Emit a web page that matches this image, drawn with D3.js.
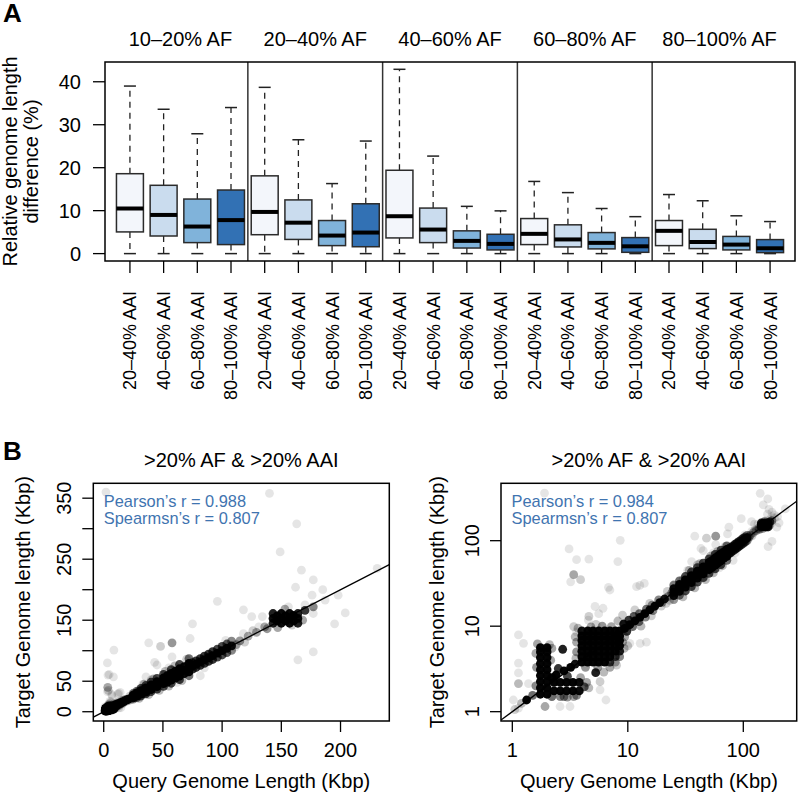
<!DOCTYPE html>
<html>
<head>
<meta charset="utf-8">
<script src="https://cdn.jsdelivr.net/npm/d3@7"></script>
<style>
  body { margin: 0; background: #fff; }
  svg text { font-family: "Liberation Sans", Arial, Helvetica, sans-serif; fill: #000; }
</style>
</head>
<body>
<div id="chart"></div>
<script>
// ---------- panel A data ----------
const afGroups = ["10–20% AF", "20–40% AF", "40–60% AF", "60–80% AF", "80–100% AF"];
const aaiGroups = ["20–40% AAI", "40–60% AAI", "60–80% AAI", "80–100% AAI"];
const yTicksA = [0, 10, 20, 30, 40];

// one value per box, boxes ordered AF group by AF group, AAI inside
const whiskerLow  = [0, 0, 0, 0,  0, 0, 0, 0,  0, 0, 0, 0,  0, 0, 0, 0,  0, 0, 0, 0];
const boxQ1       = [5.05, 4.1, 2.56, 2.1,  4.4, 3.3, 1.86, 1.6,  3.65, 2.56, 1.3, 0.86,  2.1, 1.55, 1.1, 0.3,  1.86, 1.17, 0.86, 0.23];
const boxMedian   = [10.5, 9.0, 6.3, 7.8,  9.7, 7.2, 4.2, 4.9,  8.7, 5.6, 2.96, 2.26,  4.6, 3.3, 2.5, 1.7,  5.3, 2.7, 2.1, 1.24];
const boxQ3       = [18.6, 15.9, 12.7, 14.8,  18.1, 12.5, 7.7, 11.6,  19.4, 10.6, 5.3, 4.5,  8.16, 6.7, 4.9, 3.73,  7.7, 5.66, 4.0, 3.26];
const whiskerHigh = [39.0, 33.6, 27.9, 34.0,  38.7, 26.5, 16.3, 26.2,  42.9, 22.7, 11.0, 9.95,  16.8, 14.2, 10.5, 8.6,  13.75, 12.3, 8.8, 7.46];

// ---------- panel B data ----------
// [query Kbp, target Kbp, how many overlapping points sit there]
const genomePairs = [
  // smallest genomes
  [1.33,1.37,40],[1.05,1.06,2],[1.5,1.55,8],[1.2,1.25,3],
  // vertical bar near 2 Kbp query
  [1.75,1.6,40],[1.75,1.9,40],[1.75,2.25,40],[1.75,2.65,40],[1.75,3.1,40],[1.75,3.65,40],[1.75,4.3,40],[1.75,5.0,40],[1.75,5.6,40],
  [2.0,1.6,40],[2.0,1.9,40],[2.0,2.25,40],[2.0,2.65,40],[2.0,3.1,40],[2.0,3.65,40],[2.0,4.3,40],[2.0,5.0,40],[2.0,5.6,40],
  [1.65,6.2,4],[2.1,6.1,3],[1.6,4.8,4],[2.15,4.0,4],[1.62,3.3,5],[1.6,2.0,6],[2.2,5.5,4],
  // horizontal band near 2 Kbp target
  [2.3,1.75,40],[2.6,1.75,40],[2.95,1.75,40],[3.35,1.75,40],[3.8,1.75,30],
  [2.3,2.2,40],[2.6,2.2,40],[2.95,2.2,40],[3.35,2.2,40],[3.8,2.2,30],
  [2.2,1.5,8],[2.6,1.5,6],[3.0,1.48,5],[3.4,1.5,4],
  [4.2,1.95,10],[4.4,2.2,4],[3.6,1.55,6],[2.8,1.5,6],[4.6,1.9,3],[3.9,2.5,4],
  [2.4,2.7,40],[2.8,3.0,40],[3.2,3.3,40],[3.5,3.6,25],[2.5,3.2,15],[2.2,2.5,40],[3.0,2.6,12],
  [2.73,5.37,20],[5.27,2.86,20],
  // main block 4-9 Kbp
  [4.0,3.8,40],[4.5,3.8,40],[5.0,3.8,40],[5.6,3.8,40],[6.3,3.8,40],[7.0,3.8,15],[7.8,3.8,4],
  [4.0,4.4,40],[4.5,4.4,40],[5.0,4.4,40],[5.6,4.4,40],[6.3,4.4,40],[7.0,4.4,40],[7.8,4.4,15],[8.5,4.4,6],
  [4.0,5.1,40],[4.5,5.1,40],[5.0,5.1,40],[5.6,5.1,40],[6.3,5.1,40],[7.0,5.1,40],[7.8,5.1,40],[8.5,5.1,20],
  [4.0,5.9,40],[4.5,5.9,40],[5.0,5.9,40],[5.6,5.9,40],[6.3,5.9,40],[7.0,5.9,40],[7.8,5.9,40],[8.5,5.9,40],
  [4.0,6.8,40],[4.5,6.8,40],[5.0,6.8,40],[5.6,6.8,40],[6.3,6.8,40],[7.0,6.8,40],[7.8,6.8,40],[8.5,6.8,40],
  [4.0,7.7,40],[4.5,7.7,40],[5.0,7.7,40],[5.6,7.7,40],[6.3,7.7,40],[7.0,7.7,40],[7.8,7.7,40],[8.5,7.7,40],
  [4.0,8.8,25],[4.5,8.8,40],[5.0,8.8,40],[5.6,8.8,40],[6.3,8.8,40],[7.0,8.8,40],[7.8,8.8,40],[8.5,8.8,40],
  [3.7,9.5,3],[4.8,9.8,4],[6.0,10.0,5],[7.2,9.9,4],[3.6,5.0,5],[3.6,6.5,4],[3.55,4.2,3],[9.3,5.5,3],
  [9.0,6.5,4],[7.0,3.3,4],[5.5,3.3,5],[6.2,2.9,3],[4.3,3.3,5],[3.5,7.5,3],[9.4,7.5,4],[8.0,3.5,2],
  [5.3,10.5,2],[3.4,9.9,2],[10.0,5.9,2],
  // diagonal 9-22 Kbp
  [9.4,9.4,40],[10.4,10.4,40],[11.5,11.5,40],[12.7,12.7,40],[14.0,14.0,40],[15.5,15.5,40],[17.1,17.1,40],[18.9,18.9,40],[20.8,20.8,25],
  [9.2,10.6,25],[10.2,11.8,15],[11.3,13.0,10],[12.6,14.0,8],[14.5,15.8,8],[9.8,8.7,15],[11.0,9.9,8],[12.5,11.3,8],
  [14.2,12.8,6],[16.5,15.2,6],[18.5,20.3,6],[16.2,17.6,5],[19.8,19.0,5],
  [8.2,11.5,3],[9.0,13.5,2],[13.0,10.0,3],[16.0,13.2,2],[19.5,17.2,2],[15.5,18.5,2],[11.5,15.5,2],[21.5,18.5,2],
  [22.5,22.3,5],[24,24.5,6],[23,20,2],[22,25.5,2],
  // thick band 25-72 Kbp
  [25,20.5,5],[25,22.8,30],[25,25,40],[25,27.5,30],[25,30.3,5],
  [28,23.0,8],[28,25.5,40],[28,28,40],[28,30.8,40],[28,33.9,8],
  [31.5,25.8,12],[31.5,28.7,40],[31.5,31.5,40],[31.5,34.7,40],[31.5,38.1,12],
  [35.5,29.1,12],[35.5,32.3,40],[35.5,35.5,40],[35.5,39.1,40],[35.5,43.0,12],
  [40,32.8,12],[40,36.4,40],[40,40,40],[40,44,40],[40,48.4,12],
  [45,36.9,12],[45,41.0,40],[45,45,40],[45,49.5,40],[45,54.5,12],
  [50.5,41.4,12],[50.5,46.0,40],[50.5,50.5,40],[50.5,55.6,40],[50.5,61.1,12],
  [53.7,48.5,30],[53.7,53.7,40],[53.7,59.0,30],
  [57,46.7,12],[57,51.9,40],[57,57,40],[57,62.7,40],[57,69.0,12],
  [60.5,55.0,30],[60.5,60.5,40],[60.5,66.5,30],
  [64,52.5,12],[64,58.2,40],[64,64,40],[64,70.4,40],[64,77.4,12],
  [68,62.5,30],[68,68,40],[68,74.0,30],
  [72,59.0,8],[72,65.5,40],[72,72,40],[72,79.2,40],[72,87.1,8],
  [30,22,3],[34,45,3],[38,28,3],[42,54,3],[47,35,3],[52,66,3],[55,42,3],[60,75,3],[66,51,3],[70,86,2],
  // band 75-110 Kbp
  [75,70,15],[75,75,40],[75,80.5,15],
  [78,72.5,15],[78,78,40],[78,83.5,15],
  [81.5,76,15],[81.5,81.5,40],[81.5,87,15],
  [85,79.1,15],[85,85,40],[85,91.0,15],
  [88.5,82.5,15],[88.5,88.5,40],[88.5,94.5,15],
  [92,85.6,15],[92,92,40],[92,98.4,15],
  [96,89.5,12],[96,96,40],[96,102.5,12],
  [100,93,12],[100,100,40],[100,107,12],
  [104,97,10],[104,104,35],[104,111,10],
  [108,100.4,6],[108,108,25],[108,115.6,6],
  [115,116,5],[122,124,4],[129,130,4],[136,139,4],[112,110,4],[119,114,2],[126,133,2],
  // cluster near 150 Kbp
  [143,145,20],[150,145,30],[157,145,30],[164,145,20],
  [143,153,30],[150,153,40],[157,153,40],[164,153,30],
  [143,161,20],[150,161,30],[157,161,30],[164,161,20],
  [146.5,149,30],[153.5,149,40],[160.5,149,30],[146.5,157,30],[153.5,157,40],[160.5,157,30],
  [146,150,20],[160,158,20],[170,166,15],[177,172,6],[138,136,5],[153,168,4],[168,150,4],[147,138,4],
  // scattered pairs
  [1.9,360,1],[140,358,1],[163,308,1],[167,232,1],[177,216,1],[162,204,1],[176,191,1],[187,183,1],
  [198,191,1],[231,235,1],[204,162,1],[195,144,1],[177,161,1],[177,98,1],[164,85,1],[159,142,2],
  [96,181,1],[118,167,1],[125,156,1],[134,156,1],[75,144,1],[57.7,113,5],[38,113,1],[73,120,1],
  [57.7,90,1],[81.6,59,1],[8.6,101,1],[3.1,80,1],[3.6,60,1],[4.6,61,1],[8.2,57,1],
  [3.4,40,4],[3.9,35,2],[3.2,33,1],[12.7,30,1],[6.8,28.5,1],[7.0,26.5,1],[11.9,29,1],[13.9,31.6,1],
  [45,76.6,1],[43,81,1],[35.7,57,1],[45,41.5,1],[103,117,1],[118,128,1],[111,106,1],[131,139,1],
  [156,172,1],[170,175,1],[48,107,2],[149,262,1],[185,200,1],
  [1.13,7.9,1],[1.25,6.3,1],[1.13,3.7,1],[1.13,2.84,1],[1.13,2.13,3],[1.38,2.13,1],[1.02,1.37,1],
  [1.13,1.1,1],[1.92,1.15,4],[2.59,1.15,1],[3.16,1.15,1],[6.47,1.37,1],[5.75,1.8,1],[5.75,2.24,2],
  [10.4,6.3,1],[12.8,6.3,1],[14.5,6.5,1],[6.1,16.2,1],[5.2,17,1],[4.55,11.8,1],[3.6,8.6,1],
  [4.6,13,2],[5.6,14,1],[25,30,2],[30,35,2],[33,45,1],[40,52,2],[55,72,1],[62,48,1],[85,72,1]
];
const pearsonR = ["0.988", "0.984"];
const spearmanR = ["0.807", "0.807"];
const linTicksX = [0, 50, 100, 150, 200];
const linTicksY = [0, 50, 100, 150, 200, 250, 300, 350];
const linLabelsY = [0, 50, 150, 250, 350];
const logTicks = [1, 10, 100];

// ---------- drawing ----------
const W = 798, H = 799;
const svg = d3.select("#chart").append("svg").attr("width", W).attr("height", H);
const boxFill = ["#f3f6fb", "#cadcee", "#80b3da", "#3271b4"];

svg.append("text").attr("x", 3).attr("y", 22).style("font-size", "26px").style("font-weight", "bold").text("A");
svg.append("text").attr("x", 3).attr("y", 460).style("font-size", "26px").style("font-weight", "bold").text("B");

// panel A scales
const ax = d3.scaleLinear().domain([0.26, 20.74]).range([105, 795]);
const ay = d3.scaleLinear().domain([-1.72, 44.6]).range([261, 62]);
const gA = svg.append("g");
const half = ax(1.4) - ax(1);
const cap = 6;

const boxes = d3.range(20).map(i => ({
  pos: i + 1, aai: i % 4,
  lo: whiskerLow[i], q1: boxQ1[i], med: boxMedian[i], q3: boxQ3[i], hi: whiskerHigh[i]
}));

const bx = gA.selectAll("g.box").data(boxes).enter().append("g").attr("class", "box");
// dashed whiskers
bx.append("line").attr("x1", d => ax(d.pos)).attr("x2", d => ax(d.pos))
  .attr("y1", d => ay(d.q3)).attr("y2", d => ay(d.hi))
  .attr("stroke", "#222").attr("stroke-width", 1.3).attr("stroke-dasharray", "6,5");
bx.append("line").attr("x1", d => ax(d.pos)).attr("x2", d => ax(d.pos))
  .attr("y1", d => ay(d.q1)).attr("y2", d => ay(d.lo))
  .attr("stroke", "#222").attr("stroke-width", 1.3).attr("stroke-dasharray", "6,5");
// caps
bx.append("line").attr("x1", d => ax(d.pos) - cap).attr("x2", d => ax(d.pos) + cap)
  .attr("y1", d => ay(d.hi)).attr("y2", d => ay(d.hi)).attr("stroke", "#222").attr("stroke-width", 1.5);
bx.append("line").attr("x1", d => ax(d.pos) - cap).attr("x2", d => ax(d.pos) + cap)
  .attr("y1", d => ay(d.lo)).attr("y2", d => ay(d.lo)).attr("stroke", "#222").attr("stroke-width", 1.5);
// boxes
bx.append("rect").attr("x", d => ax(d.pos) - half).attr("width", 2 * half)
  .attr("y", d => ay(d.q3)).attr("height", d => ay(d.q1) - ay(d.q3))
  .attr("fill", d => boxFill[d.aai]).attr("stroke", "#2b2b2b").attr("stroke-width", 1.5);
// medians
bx.append("line").attr("x1", d => ax(d.pos) - half).attr("x2", d => ax(d.pos) + half)
  .attr("y1", d => ay(d.med)).attr("y2", d => ay(d.med)).attr("stroke", "#000").attr("stroke-width", 4);

// separators between AF groups
gA.selectAll("line.sep").data([4.5, 8.5, 12.5, 16.5]).enter().append("line")
  .attr("x1", d => ax(d)).attr("x2", d => ax(d)).attr("y1", 62).attr("y2", 261)
  .attr("stroke", "#333").attr("stroke-width", 1.5);
gA.append("rect").attr("x", 105).attr("y", 62).attr("width", 690).attr("height", 199)
  .attr("fill", "none").attr("stroke", "#000").attr("stroke-width", 1.5);

// strip titles
gA.selectAll("text.af").data(afGroups).enter().append("text")
  .attr("x", (d, i) => ax(4 * i + 2.5)).attr("y", 46).attr("text-anchor", "middle")
  .style("font-size", "20px").text(d => d);

// y axis A
gA.selectAll("line.yt").data(yTicksA).enter().append("line")
  .attr("x1", 93).attr("x2", 105).attr("y1", d => ay(d)).attr("y2", d => ay(d))
  .attr("stroke", "#000").attr("stroke-width", 1.3);
gA.selectAll("text.yl").data(yTicksA).enter().append("text")
  .attr("x", 81).attr("y", d => ay(d)).attr("dy", "0.36em").attr("text-anchor", "end")
  .style("font-size", "20px").text(d => d);
const yTitle = gA.append("text").attr("transform", "translate(0," + ((62 + 261) / 2) + ") rotate(-90)")
  .attr("text-anchor", "middle").style("font-size", "20px");
yTitle.append("tspan").attr("x", 0).attr("y", 17).text("Relative genome length");
yTitle.append("tspan").attr("x", 0).attr("y", 38).text("difference (%)");

// x axis A
gA.selectAll("line.xt").data(boxes).enter().append("line")
  .attr("x1", d => ax(d.pos)).attr("x2", d => ax(d.pos)).attr("y1", 261).attr("y2", 273)
  .attr("stroke", "#000").attr("stroke-width", 1.3);
gA.selectAll("text.xl").data(boxes).enter().append("text")
  .attr("transform", d => "translate(" + ax(d.pos) + ",291) rotate(-90)")
  .attr("dy", "0.36em").attr("text-anchor", "end").style("font-size", "18px")
  .text(d => aaiGroups[d.aai]);

// ---------- panel B ----------
function alphaOf(n) { return 1 - Math.pow(0.9, n); }

function scatterPanel(id, x, y, left, right, idx, titleX) {
  const top = 483.3, bottom = 721;
  const g = svg.append("g");
  svg.append("clipPath").attr("id", id).append("rect")
    .attr("x", left).attr("y", top).attr("width", right - left).attr("height", bottom - top);
  const inner = g.append("g").attr("clip-path", "url(#" + id + ")");
  inner.selectAll("circle").data(genomePairs).enter().append("circle")
    .attr("cx", d => x(d[0])).attr("cy", d => y(d[1])).attr("r", 4.4)
    .attr("fill", "#000").attr("fill-opacity", d => alphaOf(d[2]));
  const dom = x.domain();
  inner.append("line").attr("x1", x(dom[0])).attr("y1", y(dom[0]))
    .attr("x2", x(dom[1])).attr("y2", y(dom[1])).attr("stroke", "#000").attr("stroke-width", 1.3);
  g.append("rect").attr("x", left).attr("y", top).attr("width", right - left).attr("height", bottom - top)
    .attr("fill", "none").attr("stroke", "#000").attr("stroke-width", 1.5);
  g.append("text").attr("x", (left + right) / 2).attr("y", 467).attr("text-anchor", "middle")
    .style("font-size", "20px").text(">20% AF & >20% AAI");
  g.append("text").attr("x", left + 10.5).attr("y", 506.5).style("font-size", "16.4px").style("fill", "#3f74b0")
    .text("Pearson’s r = " + pearsonR[idx]);
  g.append("text").attr("x", left + 10.5).attr("y", 523.5).style("font-size", "16.4px").style("fill", "#3f74b0")
    .text("Spearmsn’s r = " + spearmanR[idx]);
  g.append("text").attr("x", (left + right) / 2).attr("y", 788).attr("text-anchor", "middle")
    .style("font-size", "20px").text("Query Genome Length (Kbp)");
  g.append("text").attr("transform", "translate(" + titleX + "," + ((top + bottom) / 2) + ") rotate(-90)")
    .attr("text-anchor", "middle").style("font-size", "20px").text("Target Genome length (Kbp)");
  return g;
}

const lx = d3.scaleLinear().domain([-8.8, 241.2]).range([93.3, 389.3]);
const ly = d3.scaleLinear().domain([-15.2, 374.4]).range([721, 483.3]);
const rx = d3.scaleLog().domain([0.798, 290]).range([501, 796.7]);
const ry = d3.scaleLog().domain([0.778, 469]).range([721, 483.3]);

const gL = scatterPanel("clipL", lx, ly, 93.3, 389.3, 0, 30);
const gR = scatterPanel("clipR", rx, ry, 501, 796.7, 1, 444);

function axesB(g, x, y, xt, yt, yl, left) {
  g.selectAll("line.bx").data(xt).enter().append("line")
    .attr("x1", d => x(d)).attr("x2", d => x(d)).attr("y1", 721).attr("y2", 732)
    .attr("stroke", "#000").attr("stroke-width", 1.3);
  g.selectAll("text.bxl").data(xt).enter().append("text")
    .attr("x", d => x(d)).attr("y", 757).attr("text-anchor", "middle").style("font-size", "20px").text(d => d);
  g.selectAll("line.by").data(yt).enter().append("line")
    .attr("x1", left - 11).attr("x2", left).attr("y1", d => y(d)).attr("y2", d => y(d))
    .attr("stroke", "#000").attr("stroke-width", 1.3);
  g.selectAll("text.byl").data(yl).enter().append("text")
    .attr("transform", d => "translate(" + (left - 22) + "," + y(d) + ") rotate(-90)")
    .attr("text-anchor", "middle").style("font-size", "20px").text(d => d);
}
axesB(gL, lx, ly, linTicksX, linTicksY, linLabelsY, 93.3);
axesB(gR, rx, ry, logTicks, logTicks, logTicks, 501);
</script>
</body>
</html>
